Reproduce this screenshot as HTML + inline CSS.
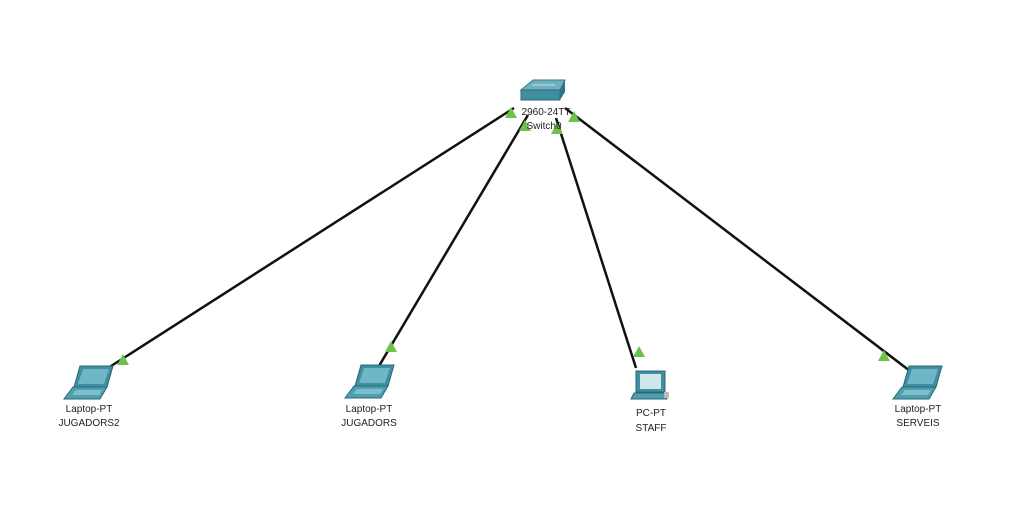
<!DOCTYPE html>
<html><head><style>
html,body{margin:0;padding:0;background:#fff;}
svg{display:block}
text{font-family:"Liberation Sans",sans-serif;font-size:10px;fill:#222;text-anchor:middle}
</style></head><body>
<svg width="1024" height="531" viewBox="0 0 1024 531">
<defs>
<g id="lap">
<polygon points="16,0 49,0 43,21 10,21" fill="#3f8fa0" stroke="#2a6776" stroke-width="1"/>
<polygon points="19,3 45,3 40,18 14,18" fill="#6fb7c6"/>
<polygon points="9,21 43,21 36,33 0,33" fill="#4f9fb0" stroke="#2a6776" stroke-width="1"/>
<polygon points="12,24 38,24 35,29 8,29" fill="#7cc0cc"/>
</g>
<polygon id="tri" points="0,-6 6,5 -6,5" fill="#6cc24a"/>
</defs>
<g stroke="#111" stroke-width="2.5" fill="none">
<line x1="514" y1="108" x2="108" y2="368"/>
<line x1="528" y1="115" x2="379" y2="366"/>
<line x1="556" y1="118" x2="636" y2="368"/>
<line x1="565" y1="108" x2="910" y2="371"/>
</g>
<g>
<polygon points="533,80 565,80 560,90 521,90" fill="#6fb0c0" stroke="#3a7a8a"/>
<polygon points="521,90 560,90 560,100 521,100" fill="#3f8fa0" stroke="#2a6776"/>
<polygon points="560,90 565,80 565,92 560,100" fill="#2f7585"/>
<line x1="532" y1="85" x2="555" y2="85" stroke="#cde" stroke-width="1"/>
</g>
<use href="#tri" x="511" y="113"/>
<use href="#tri" x="525" y="126"/>
<use href="#tri" x="557" y="129"/>
<use href="#tri" x="574" y="117"/>
<use href="#tri" x="123" y="360"/>
<use href="#tri" x="391" y="347"/>
<use href="#tri" x="639" y="352"/>
<use href="#tri" x="884" y="356"/>
<text x="546" y="115">2960-24TT</text>
<text x="544" y="129">Switch0</text>
<use href="#lap" x="64" y="366"/>
<use href="#lap" x="345" y="365"/>
<use href="#lap" x="893" y="366"/>
<g>
<rect x="636" y="371" width="29" height="21" fill="#3f8fa0" stroke="#2a6776"/>
<rect x="640" y="374" width="21" height="15" fill="#cfe6ea"/>
<polygon points="634,393 664,393 667,399 631,399" fill="#4f9fb0" stroke="#2a6776"/>
<rect x="664" y="392" width="5" height="6" fill="#bbb"/>
</g>
<text x="89" y="412">Laptop-PT</text>
<text x="89" y="426">JUGADORS2</text>
<text x="369" y="412">Laptop-PT</text>
<text x="369" y="426">JUGADORS</text>
<text x="651" y="416">PC-PT</text>
<text x="651" y="431">STAFF</text>
<text x="918" y="412">Laptop-PT</text>
<text x="918" y="426">SERVEIS</text>
</svg>
</body></html>
